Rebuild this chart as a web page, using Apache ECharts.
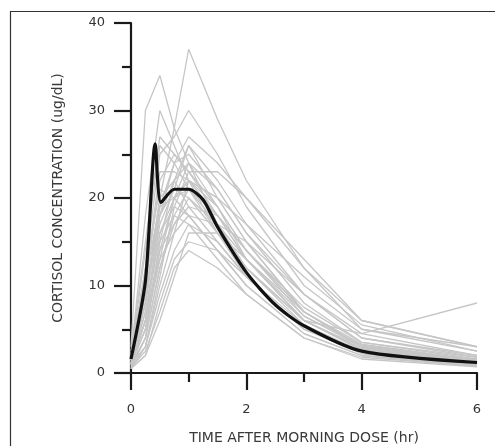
<!DOCTYPE html>
<html><head><meta charset="utf-8">
<script src="https://cdn.jsdelivr.net/npm/echarts@6/dist/echarts.min.js"></script>
<style>html,body{margin:0;padding:0;background:#fff}#c{width:495px;height:446px}</style>
</head><body><div id="c"></div>
<script>
const times = [0, 0.25, 0.5, 0.75, 1, 1.5, 2, 3, 4, 6];
const subjects = [
  [3, 30, 34, 28, 24, 17, 12, 6, 3, 1.5],
  [2, 18, 30, 26, 22, 16, 11, 5, 2.5, 1.2],
  [1, 8, 20, 28, 37, 29, 22, 12, 5, 3],
  [2, 12, 25, 27, 30, 25, 19, 10, 5, 2.5],
  [1, 6, 18, 24, 27, 24, 20, 13, 6, 3],
  [0.5, 4, 15, 22, 26, 22, 17, 9, 4, 2],
  [1.5, 10, 22, 25, 23, 19, 14, 7, 3, 1.5],
  [1, 5, 14, 20, 24, 21, 16, 8, 3.5, 1.8],
  [2, 14, 26, 24, 21, 16, 12, 6, 2.8, 1.2],
  [0.5, 3, 10, 16, 22, 20, 15, 7, 3, 1.5],
  [1, 7, 17, 21, 20, 17, 13, 6.5, 3.2, 1.4],
  [1, 4, 12, 17, 19, 18, 14, 7, 3, 1.2],
  [0.5, 2, 8, 13, 15, 14, 11, 5, 2.5, 1],
  [2, 9, 20, 22, 19, 15, 11, 5, 2.2, 1],
  [1, 5, 15, 18, 17, 13, 9, 4, 1.8, 0.8],
  [1.5, 11, 23, 23, 22, 20, 17, 11, 5.5, 2.5],
  [0.8, 6, 16, 19, 18, 14, 10, 4.5, 2, 0.9],
  [1, 3, 9, 14, 17, 15, 11, 5.5, 2.5, 1.1],
  [1.2, 8, 19, 24, 25, 21, 16, 9, 4.5, 2],
  [0.6, 2.5, 7, 12, 14, 12, 9, 4, 1.6, 0.7],
  [2.5, 15, 27, 25, 23, 18, 13, 6, 4.5, 8],
  [1, 6, 13, 16, 18, 17, 15, 9, 4, 1.8],
  [0.5, 3, 11, 19, 23, 23, 20, 12, 6, 3],
  [1.8, 12, 21, 20, 18, 14, 10, 4.5, 2, 0.8],
  [1, 7, 16, 20, 21, 18, 14, 7.5, 3.5, 1.6],
  [1.3, 9, 18, 21, 26, 20, 15, 7, 3, 1.4],
  [1, 5, 13, 20, 22, 19, 14, 6.5, 3, 1.3],
  [0.7, 4, 12, 18, 21, 17, 12, 5.5, 2.4, 1],
  [1.5, 8, 18, 22, 24, 19, 13, 6, 2.7, 1.2],
  [1, 6, 14, 17, 20, 16, 12, 6, 2.6, 1.1],
  [2, 11, 19, 20, 22, 18, 13, 7, 3.3, 1.5],
  [0.5, 2, 6, 11, 16, 16, 13, 6, 2.8, 1.2]
];
const meanTimes = [0, 0.25, 0.42, 0.52, 0.75, 1, 1.25, 1.5, 2, 2.5, 3, 4, 6];
const meanValues = [1.6, 10.5, 26.2, 19.5, 21, 21, 19.8, 16.7, 11.5, 7.8, 5.4, 2.5, 1.2];
const xTicks = [0, 2, 4, 6];
const yTicks = [0, 10, 20, 30, 40];
const xTitle = 'TIME AFTER MORNING DOSE (hr)';
const yTitle = 'CORTISOL CONCENTRATION (ug/dL)';

const series = subjects.map(vals => ({
  type: 'line', data: vals.map((v, i) => [times[i], v]),
  showSymbol: false, silent: true,
  lineStyle: {color: '#c6c6c6', width: 1.3}, z: 2
}));
series.push({
  type: 'line', data: meanValues.map((v, i) => [meanTimes[i], v]),
  showSymbol: false, smooth: 0.25,
  lineStyle: {color: '#111', width: 3.2}, z: 5
});

const axisCommon = {
  axisLine: {show: true, lineStyle: {color: '#1a1a1a', width: 2.2}},
  axisTick: {show: true, length: 17, lineStyle: {color: '#1a1a1a', width: 2.2}},
  minorTick: {show: true, splitNumber: 2, length: 9, lineStyle: {color: '#1a1a1a', width: 2.2}},
  splitLine: {show: false},
  axisLabel: {color: '#333', fontSize: 13, fontFamily: 'DejaVu Sans'},
  nameTextStyle: {color: '#3a3a3a', fontSize: 14, fontFamily: 'DejaVu Sans'}
};

const chart = echarts.init(document.getElementById('c'), null, {renderer: 'canvas'});
chart.setOption({
  animation: false,
  backgroundColor: '#fff',
  grid: {left: 131, right: 18, top: 23, bottom: 73, containLabel: false, outerBoundsMode: 'none'},
  xAxis: Object.assign({}, axisCommon, {
    type: 'value', min: xTicks[0], max: xTicks[xTicks.length - 1], interval: 2,
    name: xTitle, nameLocation: 'middle', nameGap: 58,
    axisLabel: Object.assign({}, axisCommon.axisLabel, {margin: 30})
  }),
  yAxis: Object.assign({}, axisCommon, {
    type: 'value', min: yTicks[0], max: yTicks[yTicks.length - 1], interval: 10,
    name: yTitle, nameLocation: 'middle', nameGap: 66, nameRotate: 90,
    axisLabel: Object.assign({}, axisCommon.axisLabel, {margin: 26})
  }),
  graphic: [{
    type: 'rect', left: 8, top: 9, silent: true,
    shape: {width: 600, height: 600},
    style: {fill: 'none', stroke: '#333', lineWidth: 1.2}
  }],
  series: series
});
</script></body></html>
